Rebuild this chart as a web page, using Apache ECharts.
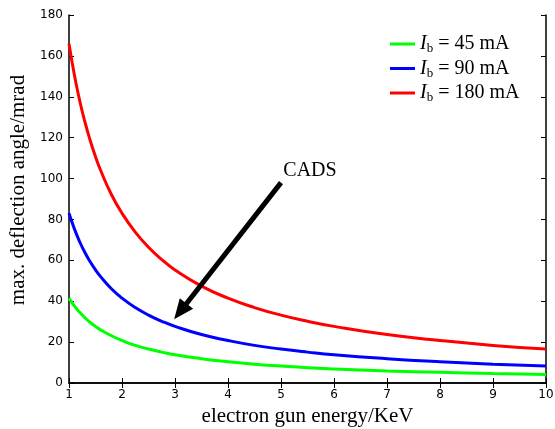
<!DOCTYPE html>
<html>
<head>
<meta charset="utf-8">
<script src="https://cdn.jsdelivr.net/npm/echarts@6/dist/echarts.min.js"></script>
<style>html,body{margin:0;padding:0;background:#fff}#c{width:555px;height:429px}</style>
</head>
<body>
<div id="c"></div>
<script>
const energy = [1, 1.1, 1.2, 1.3, 1.4, 1.5, 1.6, 1.8, 2, 2.25, 2.5, 2.75, 3, 3.5, 4, 4.5, 5, 5.5, 6, 7, 8, 9, 10];
const ib45  = [41.5, 37.7, 34.6, 31.9, 29.6, 27.7, 25.9, 23.1, 20.8, 18.4, 16.6, 15.1, 13.8, 11.9, 10.4, 9.2, 8.3, 7.5, 6.9, 5.9, 5.2, 4.6, 4.1];
const ib90  = [83, 75.5, 69.2, 63.8, 59.3, 55.3, 51.9, 46.1, 41.5, 36.9, 33.2, 30.2, 27.7, 23.7, 20.8, 18.4, 16.6, 15.1, 13.8, 11.9, 10.4, 9.2, 8.3];
const ib180 = [166, 150.9, 138.3, 127.7, 118.6, 110.7, 103.8, 92.2, 83, 73.8, 66.4, 60.4, 55.3, 47.4, 41.5, 36.9, 33.2, 30.2, 27.7, 23.7, 20.8, 18.4, 16.6];
const xTicks = [1, 2, 3, 4, 5, 6, 7, 8, 9, 10];
const yTicks = [0, 20, 40, 60, 80, 100, 120, 140, 160, 180];
const seriesNames = ['45', '90', '180'];
const arrowFrom = [5, 98];
const arrowTo = [3.1, 35];
const annotation = 'CADS';

const pair = (xs, ys) => xs.map((x, i) => [x, ys[i]]);
const tickLabel = {fontFamily: 'DejaVu Sans', fontSize: 12, color: '#000'};
const serif = 'Liberation Serif';

const chart = echarts.init(document.getElementById('c'));
const legendRich = {
  i: {fontFamily: serif, fontStyle: 'italic', fontSize: 20, color: '#000'},
  s: {fontFamily: serif, fontSize: 13, color: '#000', verticalAlign: 'bottom', padding: [10, 0, 0, 0]},
  t: {fontFamily: serif, fontSize: 20, color: '#000'}
};
function mkSeries(name, data, color, extra) {
  return Object.assign({
    name: name, type: 'line', data: data, smooth: true, showSymbol: false,
    symbol: 'none', lineStyle: {color: color, width: 3}, itemStyle: {color: color},
    xAxisIndex: 0, yAxisIndex: 0, animation: false
  }, extra || {});
}
chart.setOption({
  animation: false,
  grid: {left: 69, right: 9, top: 15, bottom: 46, containLabel: false, outerBoundsMode: 'none'},
  legend: {
    orient: 'vertical', left: 385, top: 29, itemGap: 3,
    icon: 'rect', itemWidth: 25, itemHeight: 3,
    data: seriesNames.map(n => 'Ib' + n),
    formatter: function (n) { return '{i|I}{s|b}{t| = ' + n.slice(2) + ' mA}'; },
    textStyle: {rich: legendRich}
  },
  xAxis: [
    {type: 'value', min: 1, max: 10, interval: 1, position: 'bottom',
     name: 'electron gun energy/KeV', nameLocation: 'middle', nameGap: 17,
     nameTextStyle: {fontFamily: serif, fontSize: 21, color: '#000'},
     axisLine: {lineStyle: {color: '#000', width: 1.5}},
     axisTick: {inside: true, length: 5, lineStyle: {color: '#000'}},
     axisLabel: Object.assign({margin: 6, formatter: v => xTicks.includes(v) ? String(v) : ''}, tickLabel),
     splitLine: {show: false}},
    {type: 'value', min: 1, max: 10, interval: 1, position: 'top',
     axisLine: {lineStyle: {color: '#000', width: 1.5}},
     axisTick: {inside: true, length: 5, lineStyle: {color: '#000'}},
     axisLabel: {show: false}, splitLine: {show: false}}
  ],
  yAxis: [
    {type: 'value', min: 0, max: 180, interval: 20, position: 'left',
     name: 'max. deflection angle/mrad', nameLocation: 'middle', nameGap: 35,
     nameTextStyle: {fontFamily: serif, fontSize: 21, color: '#000', padding: [0, 0, 0, 18]},
     axisLine: {show: true, lineStyle: {color: '#000', width: 1.5}},
     axisTick: {show: true, inside: true, length: 5, lineStyle: {color: '#000'}},
     axisLabel: Object.assign({margin: 6, formatter: v => yTicks.includes(v) ? String(v) : ''}, tickLabel),
     splitLine: {show: false}},
    {type: 'value', min: 0, max: 180, interval: 20, position: 'right',
     axisLine: {show: true, lineStyle: {color: '#000', width: 1.5}},
     axisTick: {show: true, inside: true, length: 5, lineStyle: {color: '#000'}},
     axisLabel: {show: false}, splitLine: {show: false}}
  ],
  series: [
    mkSeries('Ib45', pair(energy, ib45), '#00ff00'),
    mkSeries('Ib90', pair(energy, ib90), '#0000ff'),
    mkSeries('Ib180', pair(energy, ib180), '#ff0000', {
      markLine: {
        silent: true, symbol: ['none', 'triangle'], symbolSize: [17, 20],
        lineStyle: {color: '#000', width: 5, type: 'solid'},
        label: {show: false},
        data: [[{coord: arrowFrom}, {coord: arrowTo}]]
      },
      markPoint: {
        silent: true, symbol: 'circle', symbolSize: 0,
        label: {show: true, formatter: annotation, fontFamily: serif, fontSize: 20, color: '#000', position: 'inside', offset: [29, -12]},
        data: [{coord: arrowFrom}]
      }
    })
  ]
});
</script>
</body>
</html>
